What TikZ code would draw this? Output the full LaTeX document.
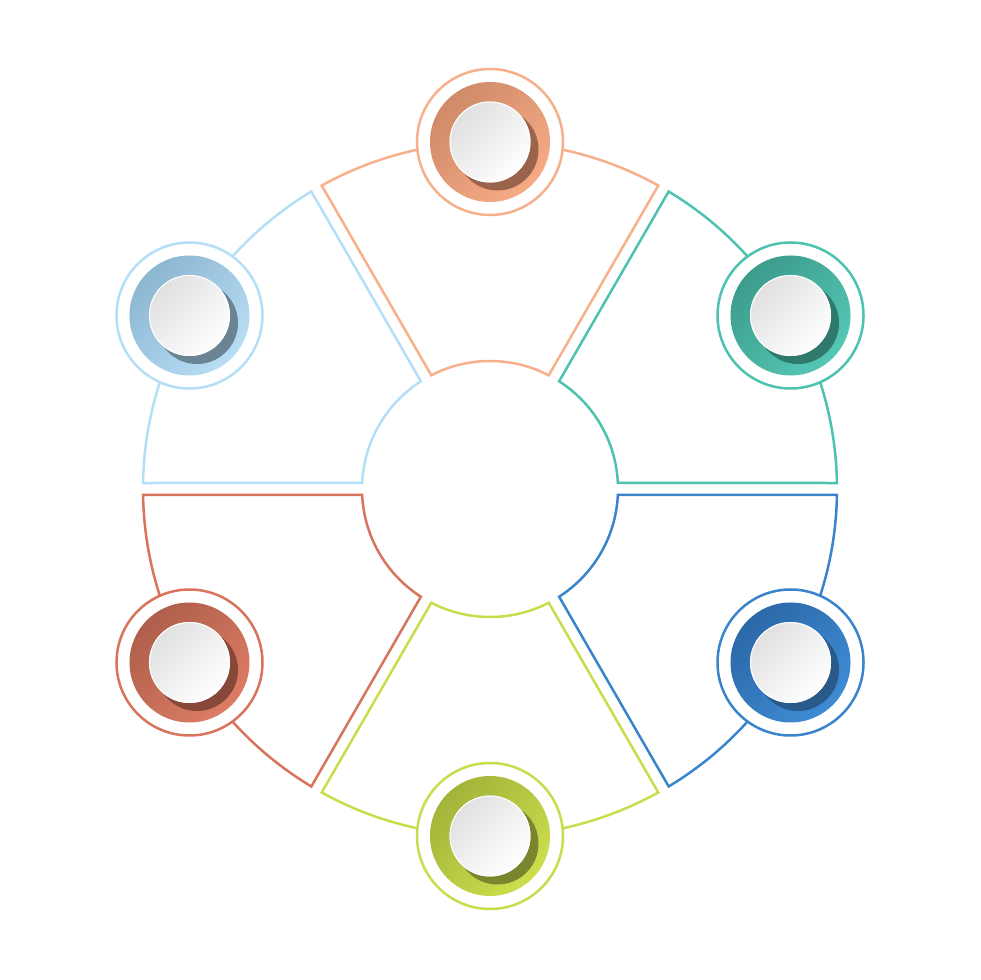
\documentclass[tikz,border=0pt]{standalone}
\usetikzlibrary{calc}
\definecolor{orS}{HTML}{F7B08C}\definecolor{orD}{HTML}{CF8A68}\definecolor{orL}{HTML}{F7AB85}\definecolor{orH}{HTML}{9A634B}
\definecolor{teS}{HTML}{4DC2AF}\definecolor{teD}{HTML}{3C9C8C}\definecolor{teL}{HTML}{56C7B5}\definecolor{teH}{HTML}{2F7A6D}
\definecolor{blS}{HTML}{3A84CC}\definecolor{blD}{HTML}{2B68A8}\definecolor{blL}{HTML}{3F8CD5}\definecolor{blH}{HTML}{2A5A8A}
\definecolor{liS}{HTML}{C8DC4C}\definecolor{liD}{HTML}{A2B339}\definecolor{liL}{HTML}{CDDE4D}\definecolor{liH}{HTML}{7A862E}
\definecolor{reS}{HTML}{D8745C}\definecolor{reD}{HTML}{AE5F4B}\definecolor{reL}{HTML}{DD7C64}\definecolor{reH}{HTML}{87483A}
\definecolor{lbS}{HTML}{B5DEF7}\definecolor{lbD}{HTML}{8DB6D1}\definecolor{lbL}{HTML}{B8DEF5}\definecolor{lbH}{HTML}{6B8494}
\tikzset{
  segline/.style={line width=2.5pt, line join=miter},
  ringnode/.style={circle, minimum size=146pt, inner sep=0pt, fill=white, line width=2.5pt},
}
\begin{document}
\begin{tikzpicture}[x=1pt,y=1pt]
\useasboundingbox (0,0) rectangle (980,980);
\begin{scope}[shift={(490,491)}]
\foreach \m/\cl in {90/or,30/te,-30/bl,-90/li,-150/re,150/lb}{
  \draw[segline, draw=\cl S] (\m-27.31:128) -- (\m-29.01:347)
     arc[start angle=\m-29.01, end angle=\m+29.01, radius=347]
     -- (\m+27.31:128)
     arc[start angle=\m+27.31, end angle=\m-27.31, radius=128] -- cycle;
}
\foreach \m/\cl in {90/or,30/te,-30/bl,-90/li,-150/re,150/lb}{
  \node[ringnode, draw=\cl S] (n\cl) at (\m:347) {};
  \shade[top color=\cl D, bottom color=\cl L, shading angle=45] (n\cl.center) circle[radius=60];
  \begin{scope}
    \clip (n\cl.center) circle[radius=59.5];
    \fill[\cl H] ($(n\cl.center)+(7.5,-7.5)$) circle[radius=41];
  \end{scope}
  \shade[top color=black!12, bottom color=white, shading angle=45] (n\cl.center) circle[radius=40.5];
  \draw[white, line width=1pt] (n\cl.center) circle[radius=40];
}
\end{scope}
\end{tikzpicture}
\end{document}
